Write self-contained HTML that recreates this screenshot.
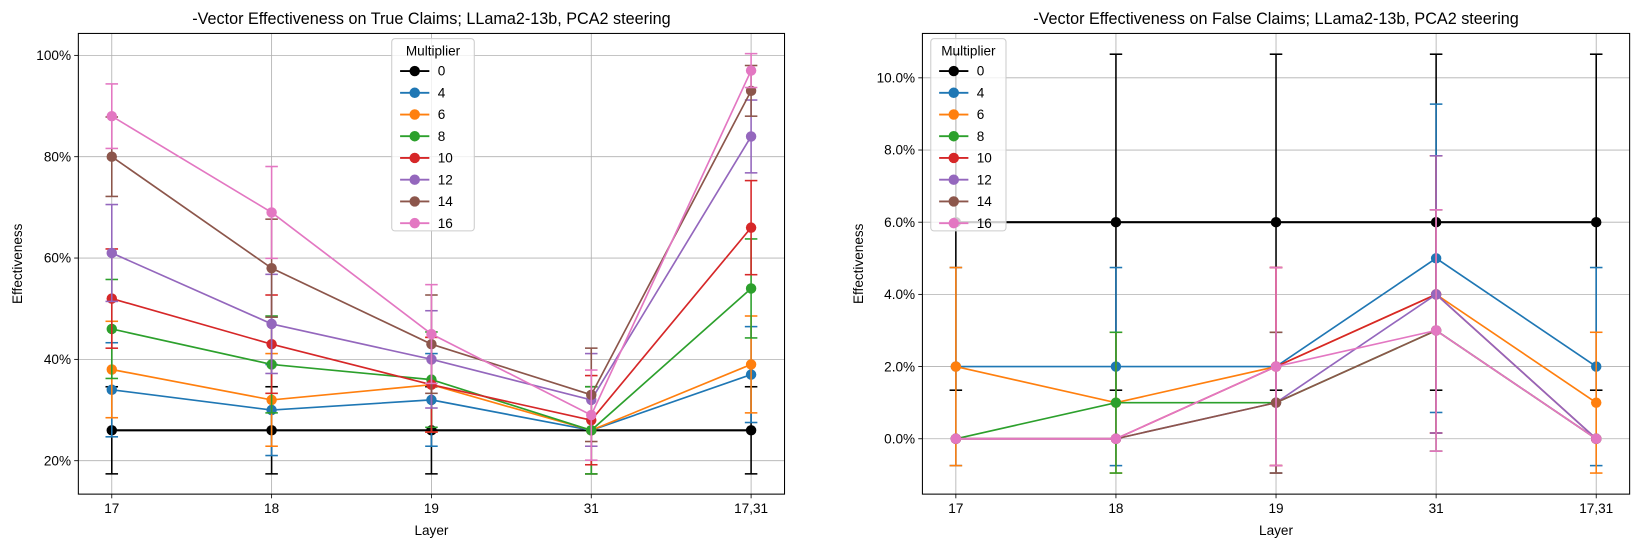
<!DOCTYPE html>
<html><head><meta charset="utf-8"><style>
body{margin:0;background:#fff}
svg{display:block;font-family:"Liberation Sans","DejaVu Sans",sans-serif}
</style></head><body>
<svg id="fig" width="1638" height="547" viewBox="0 0 1568 523.6"></svg>
<script>
const layers = ["17","18","19","31","17,31"];
const multipliers = ["0","4","6","8","10","12","14","16"];
const colors = ["#000000","#1f77b4","#ff7f0e","#2ca02c","#d62728","#9467bd","#8c564b","#e377c2"];
// True claims (%)
const trueM0  = [26,26,26,26,26];
const trueM4  = [34,30,32,26,37];
const trueM6  = [38,32,35,26,39];
const trueM8  = [46,39,36,26,54];
const trueM10 = [52,43,35,28,66];
const trueM12 = [61,47,40,32,84];
const trueM14 = [80,58,43,33,93];
const trueM16 = [88,69,45,29,97];
// False claims (%)
const falseM0  = [6,6,6,6,6];
const falseM4  = [2,2,2,5,2];
const falseM6  = [2,1,2,4,1];
const falseM8  = [0,1,1,3,0];
const falseM10 = [0,0,2,4,0];
const falseM12 = [0,0,1,4,0];
const falseM14 = [0,0,1,3,0];
const falseM16 = [0,0,2,3,0];
const leftTicks = [20,40,60,80,100];
const leftTickLabels = ["20%","40%","60%","80%","100%"];
const rightTicks = [0,2,4,6,8,10];
const rightTickLabels = ["0.0%","2.0%","4.0%","6.0%","8.0%","10.0%"];
const sampleN = 100;

const trueSeries=[trueM0,trueM4,trueM6,trueM8,trueM10,trueM12,trueM14,trueM16];
const falseSeries=[falseM0,falseM4,falseM6,falseM8,falseM10,falseM12,falseM14,falseM16];
const NS="http://www.w3.org/2000/svg";
const svg=document.getElementById('fig');
function mk(tag,attrs,parent){const e=document.createElementNS(NS,tag);for(const k in attrs)e.setAttribute(k,attrs[k]);(parent||svg).appendChild(e);return e;}
function err(p){const q=p/100;return 196*Math.sqrt(q*(1-q)/sampleN);}

function chart(cfg){
  const g=mk('g',{});
  
  
  const L=cfg.left,R=cfg.right,T=32,B=473;
  const xs=i=>L+32+i*(R-L-64)/(layers.length-1);
  const ys=v=>cfg.y0-(v-cfg.v0)*cfg.k;
  layers.forEach((l,i)=>{const x=xs(i);
    const gl=mk('line',{x1:x,x2:x,y1:T,y2:B,stroke:'#b0b0b0','stroke-width':0.8},g);
    
    mk('line',{x1:x,x2:x,y1:B,y2:B+4,stroke:'#000','stroke-width':0.8},g);
    const t=mk('text',{x:x,y:B+18,'font-size':13,'text-anchor':'middle'},g);t.textContent=l;
    });
  cfg.ticks.forEach((v,i)=>{const y=ys(v);
    const gl=mk('line',{x1:L,x2:R,y1:y,y2:y,stroke:'#b0b0b0','stroke-width':0.8},g);
    
    mk('line',{x1:L-4,x2:L,y1:y,y2:y,stroke:'#000','stroke-width':0.8},g);
    const t=mk('text',{x:L-7,y:y+4.5,'font-size':13,'text-anchor':'end'},g);t.textContent=cfg.tickLabels[i];
    });
  cfg.series.forEach((s,si)=>{const c=colors[si];
    const sg=mk('g',{},g);
    
    
    s.forEach((v,i)=>{const e=err(v),x=xs(i);if(e<=0)return;
      const y1=ys(v-e),y2=ys(v+e);
      mk('line',{x1:x,x2:x,y1:y1,y2:y2,stroke:c,'stroke-width':1.5},sg);
      mk('line',{x1:x-6,x2:x+6,y1:y1,y2:y1,stroke:c,'stroke-width':1.5},sg);
      mk('line',{x1:x-6,x2:x+6,y1:y2,y2:y2,stroke:c,'stroke-width':1.5},sg);});
    const pts=s.map((v,i)=>xs(i)+','+ys(v)).join(' ');
    const pl=mk('polyline',{points:pts,fill:'none',stroke:c,'stroke-width':si==0?2:1.6},sg);
    
    
    s.forEach((v,i)=>{const p=mk('circle',{cx:xs(i),cy:ys(v),r:5,fill:c},sg);
      });
  });
  const fr=mk('rect',{x:L,y:T,width:R-L,height:B-T,fill:'none',stroke:'#000','stroke-width':1},g);
  
  const ti=mk('text',{x:(L+R)/2,y:23,'font-size':15.5,'text-anchor':'middle'},g);ti.textContent=cfg.title;
  
  const xl=mk('text',{x:(L+R)/2,y:512,'font-size':13,'text-anchor':'middle'},g);xl.textContent='Layer';
  
  const yl=mk('text',{x:0,y:0,'font-size':13,'text-anchor':'middle',transform:`translate(${cfg.ylx},${(T+B)/2}) rotate(-90)`},g);yl.textContent='Effectiveness';
  
  const lg=mk('g',{},g);
  
  const lx=cfg.legX,ly=37,lw=cfg.legW;
  mk('rect',{x:lx,y:ly,width:lw,height:184,rx:3,fill:'#fff','fill-opacity':0.8,stroke:'#ccc'},lg);
  const lt=mk('text',{x:lx+lw/2,y:ly+16,'font-size':13,'text-anchor':'middle'},lg);lt.textContent='Multiplier';
  multipliers.forEach((m,i)=>{const y=ly+31+i*20.8;
    const en=mk('g',{},lg);
    
    mk('line',{x1:lx+8,x2:lx+36,y1:y,y2:y,stroke:colors[i],'stroke-width':1.8},en);
    mk('circle',{cx:lx+22,cy:y,r:5,fill:colors[i]},en);
    const t=mk('text',{x:lx+44,y:y+4.5,'font-size':13},en);t.textContent=m;});
}
chart({name:'true-claims-chart',left:75,right:751,v0:100,y0:53,k:4.85,ticks:leftTicks,tickLabels:leftTickLabels,series:trueSeries,
  title:'-Vector Effectiveness on True Claims; LLama2-13b, PCA2 steering',ylx:21,legX:375,legW:79});
chart({name:'false-claims-chart',left:883,right:1560,v0:0,y0:420,k:34.55,ticks:rightTicks,tickLabels:rightTickLabels,series:falseSeries,
  title:'-Vector Effectiveness on False Claims; LLama2-13b, PCA2 steering',ylx:826,legX:891,legW:72});
</script>
</body></html>
